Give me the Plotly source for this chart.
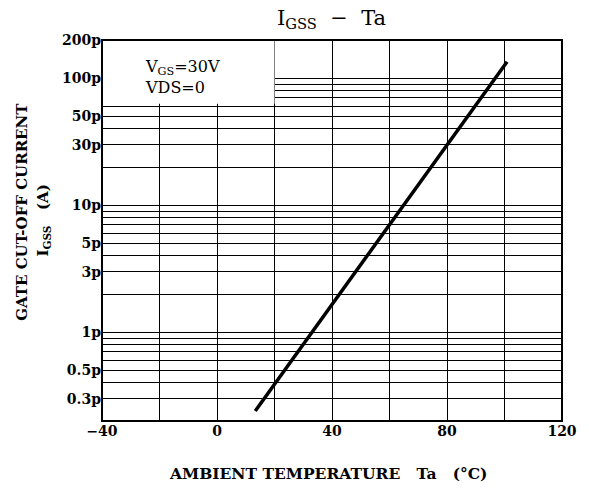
import plotly.graph_objects as go
import numpy as np

# Data
temp = [13.3, 100.9]                  # Ta (°C)
igss = [0.24e-12, 135e-12]            # IGSS (A)

x_ticks = [-40, 0, 40, 80, 120]
x_labels = ["\u221240", "0", "40", "80", "120"]

y_ticks = [3e-13, 5e-13, 1e-12, 3e-12, 5e-12, 1e-11, 3e-11, 5e-11, 1e-10, 2e-10]
y_labels = ["0.3p", "0.5p", "1p", "3p", "5p", "10p", "30p", "50p", "100p", "200p"]

FONT = "DejaVu Serif"

fig = go.Figure()
fig.add_trace(go.Scatter(x=temp, y=igss, mode="lines",
                         line=dict(color="black", width=3.5), showlegend=False))

L, R, T, B = 102, 566.5, 40, 421
W, H = 589, 489
pw, ph = R - L, B - T
def px(x):
    return (x - L) / pw
def py(y):
    return (B - y) / ph

tickfont = dict(family=FONT, size=14, weight="bold")

fig.update_layout(
    width=W, height=H,
    margin=dict(l=L, r=W - R, t=T, b=H - B),
    paper_bgcolor="white", plot_bgcolor="white",
    font=dict(family=FONT, color="black", size=15),
    xaxis=dict(range=[-40, 120], tickvals=x_ticks, ticktext=x_labels,
               showgrid=True, gridcolor="black", gridwidth=1,
               minor=dict(dtick=20, tick0=0, showgrid=True, gridcolor="black",
                          gridwidth=1, ticks=""),
               showline=False, zeroline=False, ticks="",
               tickfont=tickfont),
    yaxis=dict(type="log", range=[np.log10(2e-13), np.log10(2e-10)],
               tickvals=y_ticks, ticktext=y_labels,
               showgrid=True, gridcolor="black", gridwidth=1,
               minor=dict(dtick="D1", showgrid=True, gridcolor="black",
                          gridwidth=1, ticks=""),
               showline=False, zeroline=False, ticks="",
               tickfont=tickfont),
    shapes=[
        dict(type="rect", xref="x", yref="y", x0=-40, x1=20, y0=6.3e-11, y1=2e-10,
             fillcolor="white", line=dict(width=0), layer="above"),
        dict(type="rect", xref="paper", yref="paper", x0=0, x1=1, y0=0, y1=1,
             line=dict(color="black", width=2), layer="above"),
    ],
    annotations=[
        dict(text="I<sub>GSS</sub>  \u2212  Ta", xref="paper", yref="paper",
             x=px(334), y=py(19), showarrow=False, font=dict(size=21, family=FONT),
             xanchor="center", yanchor="middle"),
        dict(text="V<sub>GS</sub>=30V<br>VDS=0", xref="paper", yref="paper",
             x=px(143), y=py(77), showarrow=False, align="left",
             font=dict(size=16, family=FONT), xanchor="left", yanchor="middle"),
        dict(text="GATE CUT-OFF CURRENT", xref="paper", yref="paper",
             x=px(21), y=py(212), showarrow=False, textangle=-90,
             font=dict(size=15, family=FONT, weight="bold"), xanchor="center", yanchor="middle"),
        dict(text="I<sub>GSS</sub>   (A)", xref="paper", yref="paper",
             x=px(42), y=py(221), showarrow=False, textangle=-90,
             font=dict(size=15, family=FONT, weight="bold"), xanchor="center", yanchor="middle"),
        dict(text="AMBIENT TEMPERATURE   Ta   (\u00b0C)", xref="paper", yref="paper",
             x=px(330), y=py(474), showarrow=False,
             font=dict(size=15.5, family=FONT, weight="bold"), xanchor="center", yanchor="middle"),
    ],
)

fig.write_html("out.html", config={"displayModeBar": False},
               post_script="document.body.style.margin='0px';")
